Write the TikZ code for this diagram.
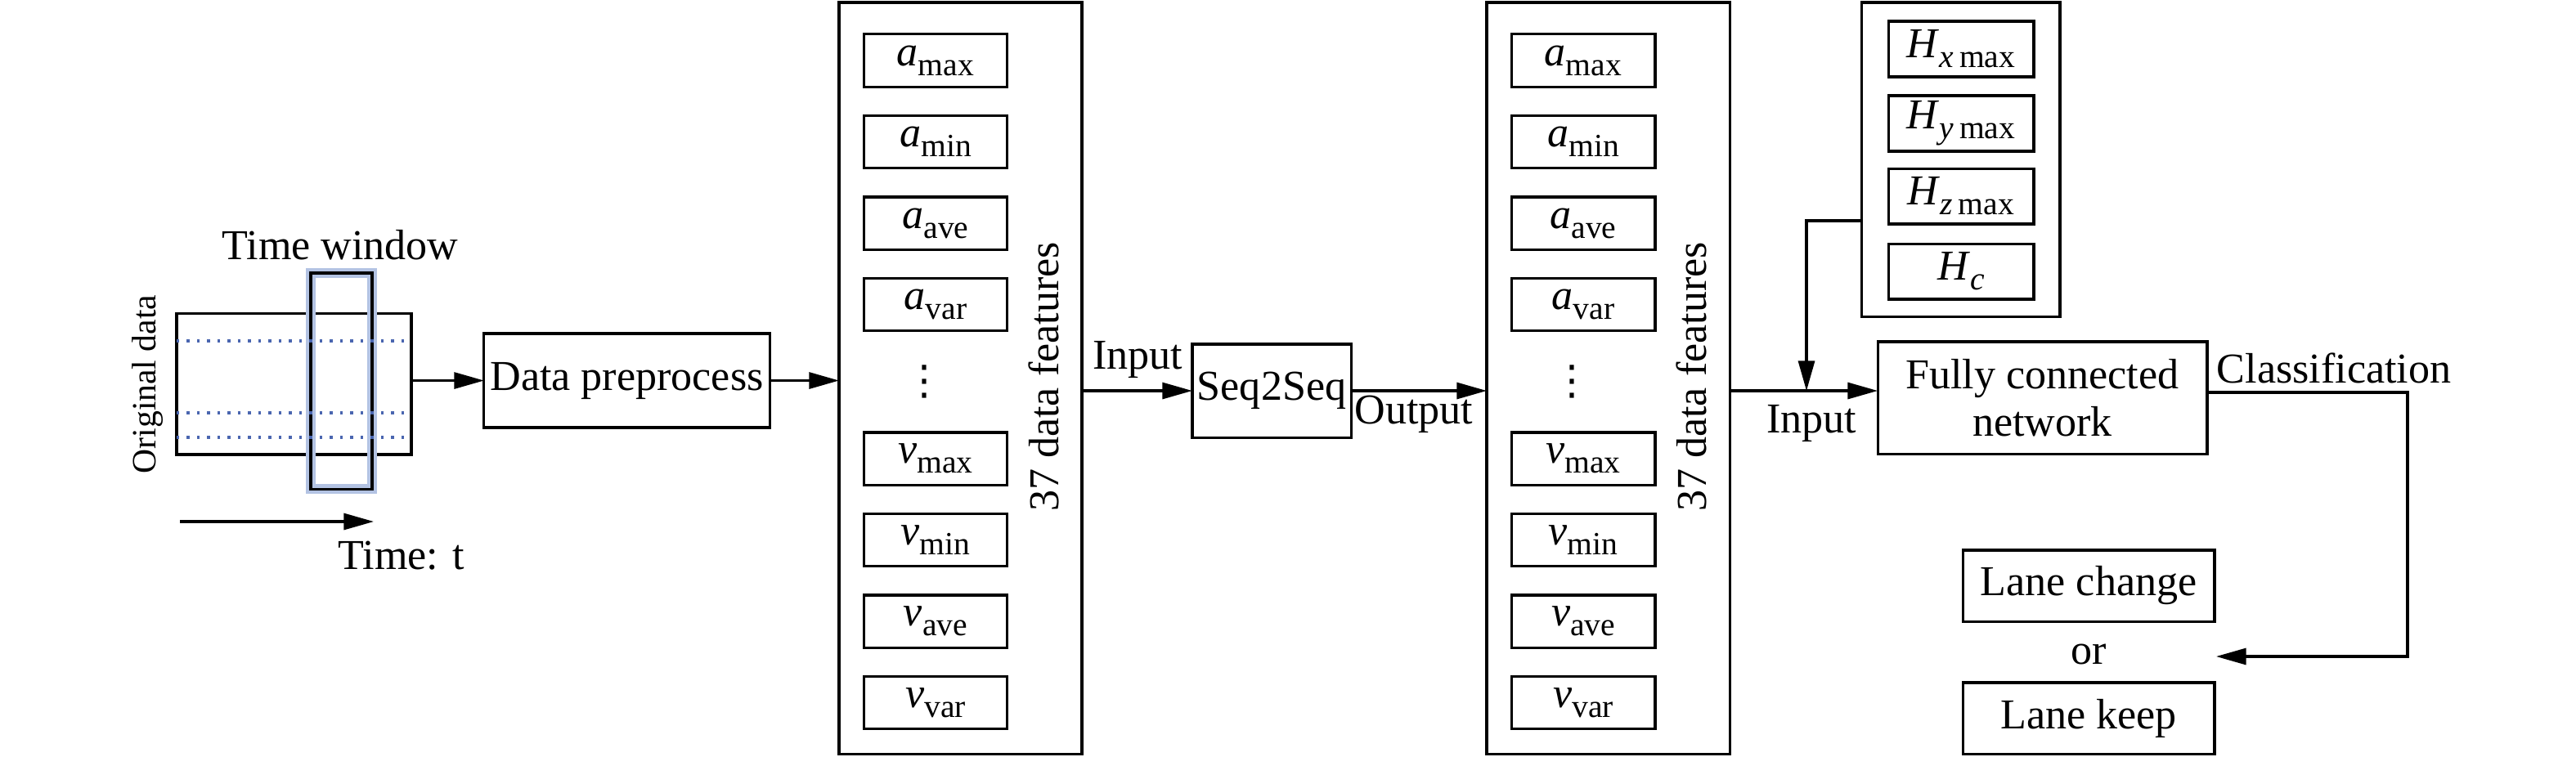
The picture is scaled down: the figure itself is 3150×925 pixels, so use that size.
\documentclass[tikz,border=0pt]{standalone}
\usepackage{fontspec}
\setmainfont{Liberation Serif}
\newfontfamily\tnr{Liberation Serif}
\newfontfamily\dvs{DejaVu Sans}
\usetikzlibrary{arrows.meta,calc}
\definecolor{twblue}{HTML}{B3C3E3}
\definecolor{dotblue}{HTML}{4A66B0}
\newcommand\feat[2]{\textit{#1}\raisebox{-0.5ex}{\fontsize{9.5}{10}\selectfont #2}}
\begin{document}
\begin{tikzpicture}[x=0.24pt,y=-0.24pt,
  txt/.style={font=\tnr\fontsize{12.5}{14}\selectfont, inner sep=0pt},
  box/.style={draw, line width=0.75pt, inner sep=0pt, outer sep=0pt, font=\tnr\fontsize{12.5}{14}\selectfont},
  fbox/.style={box, minimum width=42.2pt, minimum height=15.4pt},
  hbox/.style={box, minimum width=42.7pt, minimum height=16.3pt},
  vdot/.style={inner sep=0pt, font=\dvs\fontsize{12}{14}\selectfont},
  arr/.style={-{Triangle[length=8.8pt,width=4.8pt]}, line width=0.75pt},
  ln/.style={line width=0.75pt}]
\useasboundingbox (0,0) rectangle (3150,925);

% original data and time window
\node[box, minimum width=68.9pt, minimum height=41.5pt] (orig) at (359.5,469.5) {};
\node[draw=twblue, line width=2.9pt, inner sep=0pt, outer sep=0pt, minimum width=18pt, minimum height=63.4pt] (tw) at (417.5,466) {};
\draw[ln] (tw.south west) rectangle (tw.north east);
\foreach \yy in {417,505,535}
  \draw[dotblue, line width=0.8pt, dash pattern=on 0.8pt off 2.2pt] (orig.west |- 0,\yy) -- (orig.east |- 0,\yy);
\node[txt] (twl) at (416,300) {Time window};
\node[txt, font=\tnr\fontsize{10}{12}\selectfont, rotate=90] (odl) at (181,470) {Original data};
\coordinate (ta) at (220,638);
\coordinate (tb) at (457,638);
\draw[arr] (ta) -- (tb);
\node[txt] (tl) at (491,680) {Time: t};

% preprocess
\node[box, minimum width=83.8pt, minimum height=27.6pt] (pre) at (766.5,465.5) {Data preprocess};
\draw[arr] (orig.east |- pre.west) -- (pre.west);

% feature box 1
\node[box, minimum width=71.3pt, minimum height=220.6pt] (f1) at (1174.5,462.5) {};
\draw[arr] (pre.east) -- (pre.east -| f1.west);
\node[fbox] (f1a) at (1144,74) {\feat{a}{max}};
\node[fbox] (f1b) at (1144,173.5) {\feat{a}{min}};
\node[fbox] (f1c) at (1144,273) {\feat{a}{ave}};
\node[fbox] (f1d) at (1144,372.5) {\feat{a}{var}};
\node[vdot] (f1dots) at (1130,467) {⋮};
\node[fbox] (f1e) at (1144,561) {\feat{v}{max}};
\node[fbox] (f1f) at (1144,660.5) {\feat{v}{min}};
\node[fbox] (f1g) at (1144,760) {\feat{v}{ave}};
\node[fbox] (f1h) at (1144,859.5) {\feat{v}{var}};
\node[txt, rotate=90] (f1l) at (1276,461) {37 data features};

% seq2seq
\node[box, minimum width=46.6pt, minimum height=27.4pt] (seq) at (1555,478) {Seq2Seq};
\draw[arr] (seq.west -| f1.east) -- (seq.west);
\node[txt] (inl) at (1391,440) {Input};

% feature box 2
\node[box, minimum width=71.3pt, minimum height=220.6pt] (f2) at (1966.5,462.5) {};
\draw[arr] (seq.east) -- (seq.east -| f2.west);
\node[txt] (outl) at (1729,507) {Output};
\node[fbox] (f2a) at (1936,74) {\feat{a}{max}};
\node[fbox] (f2b) at (1936,173.5) {\feat{a}{min}};
\node[fbox] (f2c) at (1936,273) {\feat{a}{ave}};
\node[fbox] (f2d) at (1936,372.5) {\feat{a}{var}};
\node[vdot] (f2dots) at (1922,467) {⋮};
\node[fbox] (f2e) at (1936,561) {\feat{v}{max}};
\node[fbox] (f2f) at (1936,660.5) {\feat{v}{min}};
\node[fbox] (f2g) at (1936,760) {\feat{v}{ave}};
\node[fbox] (f2h) at (1936,859.5) {\feat{v}{var}};
\node[txt, rotate=90] (f2l) at (2068,461) {37 data features};

% H box
\node[box, minimum width=58.3pt, minimum height=92.2pt] (hb) at (2397.5,195) {};
\node[hbox] (h1) at (2398,60) {\feat{H}{\textit{x}\,max}};
\node[hbox] (h2) at (2398,151) {\feat{H}{\textit{y}\,max}};
\node[hbox] (h3) at (2398,240) {\feat{H}{\textit{z}\,max}};
\node[hbox] (h4) at (2398,332) {\feat{H}{\textit{c}}};

% fully connected network
\node[box, minimum width=96.7pt, minimum height=32.9pt, align=center] (fcn) at (2497.5,486.5) {Fully connected\\network};
\coordinate (m) at (2209,478);
\draw[arr] (m -| f2.east) -- (m -| fcn.west);
\draw[arr] (hb.west |- 0,270) -| (m);
\node[txt] (in2) at (2215,518) {Input};
\node[txt] (cls) at (2854,450) {Classification};

% outputs
\node[box, minimum width=73.9pt, minimum height=20.9pt] (lc) at (2554,716.5) {Lane change};
\node[txt] (orn) at (2554,800) {or};
\node[box, minimum width=73.9pt, minimum height=20.9pt] (lk) at (2554,878.5) {Lane keep};
\coordinate (cr) at (2944,480);
\draw[arr] (fcn.east |- cr) -- (cr) -- (cr |- 0,803) -- ($(lc.east |- 0,803)+(2,0)$);
\end{tikzpicture}
\end{document}
